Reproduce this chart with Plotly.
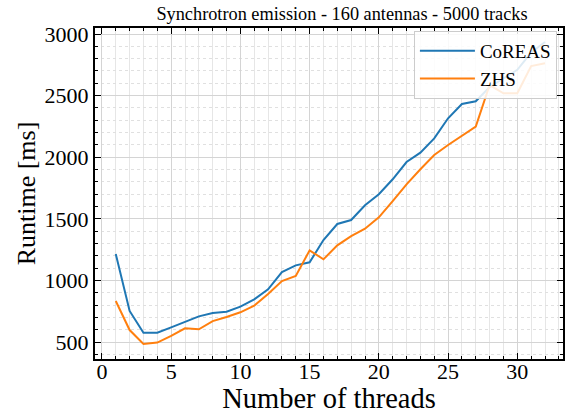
import plotly.graph_objects as go

threads = list(range(1, 33))
coreas = [1214, 752, 575, 575, 619, 665, 708, 735, 746, 787, 846, 928, 1068, 1122, 1147,
          1328, 1458, 1490, 1610, 1699, 1821, 1961, 2037, 2153, 2316, 2432, 2454, 2570,
          2640, 2710, 2850, 2935]
zhs = [833, 597, 484, 495, 549, 611, 603, 670, 703, 741, 795, 890, 995, 1036, 1244,
       1171, 1285, 1360, 1420, 1512, 1644, 1780, 1902, 2018, 2099, 2172, 2248, 2586,
       2519, 2519, 2740, 2762]

title_text = "Synchrotron emission - 160 antennas - 5000 tracks"
x_label = "Number of threads"
y_label = "Runtime [ms]"
x_ticks = [0, 5, 10, 15, 20, 25, 30]
y_ticks = [500, 1000, 1500, 2000, 2500, 3000]

FONT = "Liberation Serif"

fig = go.Figure()
fig.add_trace(go.Scatter(x=threads, y=coreas, mode="lines", name="CoREAS",
                         line=dict(color="#1f77b4", width=2)))
fig.add_trace(go.Scatter(x=threads, y=zhs, mode="lines", name="ZHS",
                         line=dict(color="#ff7f0e", width=2)))

axis_common = dict(
    showline=True, linecolor="black", linewidth=2, mirror="allticks",
    ticks="inside", ticklen=6, tickwidth=1.2, tickcolor="black",
    showgrid=True, gridcolor="#d4d4d4", gridwidth=0.8,
    zeroline=False, automargin=False,
    tickfont=dict(family=FONT, size=22, color="black"),
)

fig.update_xaxes(
    range=[-0.5, 33.3], tickvals=x_ticks, ticktext=[str(v) for v in x_ticks],
    ticklabelstandoff=-8,
    title=dict(text=x_label, font=dict(family=FONT, size=28.5, color="black"), standoff=12),
    minor=dict(ticks="inside", ticklen=3, tickwidth=1, tickcolor="black", dtick=1,
               tick0=0, showgrid=True, gridcolor="#e6e6e6", gridwidth=0.8),
    **axis_common,
)
fig.update_yaxes(
    range=[362, 3049], tickvals=y_ticks, ticktext=[str(v) for v in y_ticks],
    title=dict(text=y_label, font=dict(family=FONT, size=26, color="black"), standoff=1),
    minor=dict(ticks="inside", ticklen=3, tickwidth=1, tickcolor="black", dtick=100,
               tick0=0, showgrid=True, gridcolor="#e0e0e0", griddash="dot", gridwidth=0.8),
    **axis_common,
)

fig.update_layout(
    width=566, height=414,
    margin=dict(l=95, r=3, t=28, b=55, autoexpand=False),
    paper_bgcolor="white", plot_bgcolor="white",
    title=dict(text=title_text, font=dict(family=FONT, size=18.3, color="black"),
               x=342 / 566, xanchor="center", y=1 - 14 / 414, yanchor="middle"),
    legend=dict(x=0.987, y=0.991, xanchor="right", yanchor="top",
                bgcolor="rgba(255,255,255,0.85)", bordercolor="#cccccc", borderwidth=1,
                font=dict(family=FONT, size=19, color="black"),
                itemwidth=55, tracegroupgap=2),
    showlegend=True,
)

fig.write_html("out.html", config={"displayModeBar": False},
               post_script="document.body.style.margin='0';")
